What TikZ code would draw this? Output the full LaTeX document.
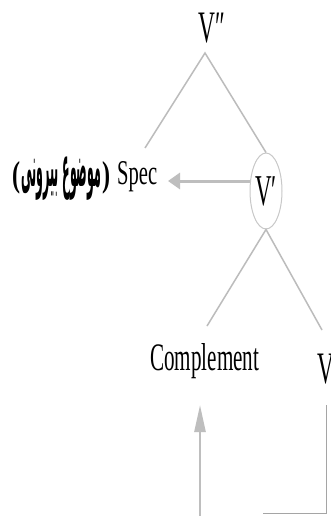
\documentclass[tikz,border=0pt]{standalone}
\usepackage{graphicx}
\usepackage{fontspec}
\setmainfont{Liberation Serif}
\newfontfamily\arabicfont[Script=Arabic]{DejaVu Sans}
\TeXXeTstate=1
\usetikzlibrary{arrows.meta,shapes.geometric}

% condensed serif labels
\newcommand{\sqz}[2][45]{\scalebox{0.52}[1]{\fontsize{#1}{#1}\selectfont #2}}
% condensed bold parenthesis
\newcommand{\bpar}[1]{\scalebox{0.67}[1]{\fontsize{36}{36}\selectfont\bfseries #1}}

\definecolor{branch}{RGB}{188,188,188}
\definecolor{ring}{RGB}{200,200,200}
\definecolor{pointer}{RGB}{190,190,190}
\definecolor{frame}{RGB}{165,165,165}

\tikzset{
  word/.style={inner sep=0pt, text=black},
  branchline/.style={draw=branch, line width=1.5pt},
  pointerline/.style={draw=pointer, line width=3pt},
  frameline/.style={draw=frame, line width=1pt},
}

\begin{document}
\begin{tikzpicture}[x=1pt, y=-1pt]
\useasboundingbox (0,0) rectangle (330,516);
\fill[white] (0,0) rectangle (330,516);

% nodes
\node[word, anchor=base west] (vpp) at (198,43) {\sqz{V″}};
\node[ellipse, draw=ring, line width=1pt, minimum width=32pt, minimum height=76pt, inner sep=0pt] (vp) at (266,191) {\sqz[44]{V′}};
\node[word, anchor=base west] (spec) at (117,184) {\resizebox{40pt}{23pt}{Spec}};
\node[word, anchor=base west] (ext) at (12,186) {\bpar{(}\hspace{1pt}\resizebox{80pt}{30pt}{\arabicfont\bfseries\beginR موضوع بیرونی\endR}\hspace{1pt}\bpar{)}};
\node[word, anchor=base west] (comp) at (150,370) {\resizebox{109pt}{27pt}{Complement}};
\node[word, anchor=base west] (v) at (317,383) {\sqz{V}};

% junction points of the tree
\coordinate (apex) at (205,53);
\coordinate (specjoin) at (145,148);
\coordinate (compjoin) at (207,326);
\coordinate (vjoin) at (322,330);
\coordinate (spectip) at (168,181);
\coordinate (compfoot) at (200,516);
\coordinate (comptip) at (200,405);
\coordinate (vfoot) at (326,405);
\coordinate (corner) at (326,513);
\coordinate (floorend) at (263,513);

% branches
\draw[branchline] (specjoin) -- (apex) -- (vp.north);
\draw[branchline] (compjoin) -- (vp.south) -- (vjoin);

% pointers
\draw[pointerline, -{Triangle[length=12pt, width=16pt]}] (vp.west |- spectip) -- (spectip);
\draw[pointerline, line width=2.5pt, -{Triangle[length=27pt, width=11pt]}] (compfoot) -- (comptip);

% frame below the verb
\draw[frameline] (vfoot) -- (corner) -- (floorend);
\end{tikzpicture}
\end{document}
